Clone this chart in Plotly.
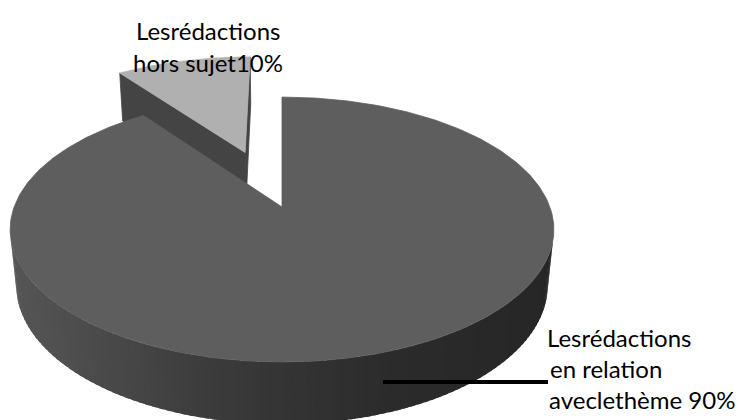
import math
import plotly.graph_objects as go

# ---- data -------------------------------------------------------------
categories = ["Lesrédactions en relation avecle thème", "Lesrédactions hors sujet"]
values = [90, 10]
label_lines = [
    ["Lesrédactions", " en relation", "aveclethème 90%"],
    ["Lesrédactions", "hors sujet10%"],
]
top_colors = ["#5e5e5e", "#b0b0b0"]
explode = [0.0, 0.48]

# ---- 3D pie geometry (pie radius = 1, screen coordinates in pixels) ---
W, H = 739, 420
CX, CY = 282, 207          # screen position of the pie centre
FOCAL = 1381.0             # projection focal length
DIST = 5.155               # camera distance
THICK = 0.24               # pie thickness
PHI = math.asin(0.48)      # camera elevation
CAM = (0.0, -DIST * math.cos(PHI), DIST * math.sin(PHI))


def project(u, v, z):
    depth = DIST + v * math.cos(PHI) - z * math.sin(PHI)
    x = CX + FOCAL * u / depth
    y = CY - FOCAL * (v * math.sin(PHI) + z * math.cos(PHI)) / depth
    return x, y


def depth_of(u, v, z):
    return DIST + v * math.cos(PHI) - z * math.sin(PHI)


def faces_camera(normal, point):
    d = [CAM[i] - point[i] for i in range(3)]
    return sum(normal[i] * d[i] for i in range(3)) > 0


def shade(hex_color, k):
    r, g, b = (int(hex_color[i:i + 2], 16) for i in (1, 3, 5))
    return "#%02x%02x%02x" % (int(r * k), int(g * k), int(b * k))


# wall brightness varies from left (lit) to right (shadow)
WALL_SHADE = [(12, 0.92), (100, 0.80), (200, 0.66), (300, 0.545), (400, 0.46), (557, 0.41)]


def wall_factor(x):
    if x <= WALL_SHADE[0][0]:
        return WALL_SHADE[0][1]
    for (x0, f0), (x1, f1) in zip(WALL_SHADE, WALL_SHADE[1:]):
        if x <= x1:
            t = (x - x0) / (x1 - x0)
            return f0 + t * (f1 - f0)
    return WALL_SHADE[-1][1]


RADIAL_SHADE = 0.39

total = sum(values)
slices = []
start = 0.0
for name, val, col, ex in zip(categories, values, top_colors, explode):
    sweep = 2 * math.pi * val / total
    a0, a1 = start, start + sweep
    mid = (a0 + a1) / 2
    ou, ov = ex * math.sin(mid), ex * math.cos(mid)
    slices.append(dict(name=name, a0=a0, a1=a1, ou=ou, ov=ov, color=col,
                       mid=mid))
    start = a1

polys = []  # (xs, ys, color, outline)


def add_poly(pts3d, color, outline=0.8):
    xs, ys = zip(*[project(*p) for p in pts3d])
    polys.append((list(xs) + [xs[0]], list(ys) + [ys[0]], color, outline))


# farther slices first
slices.sort(key=lambda s: -depth_of(s["ou"] + 0.5 * math.sin(s["mid"]),
                                   s["ov"] + 0.5 * math.cos(s["mid"]), 0))

for s in slices:
    ou, ov, a0, a1 = s["ou"], s["ov"], s["a0"], s["a1"]
    side = []
    # radial faces
    for ang, sign in ((a0, -1), (a1, 1)):
        normal = (sign * math.cos(ang), -sign * math.sin(ang), 0)
        rim = (ou + math.sin(ang), ov + math.cos(ang))
        centre_pt = (ou + 0.5 * math.sin(ang), ov + 0.5 * math.cos(ang), -THICK / 2)
        if faces_camera(normal, centre_pt):
            pts = [(ou, ov, 0), (rim[0], rim[1], 0), (rim[0], rim[1], -THICK), (ou, ov, -THICK)]
            side.append((depth_of(*centre_pt), pts, shade(s["color"], RADIAL_SHADE), 0.8))
    # outer wall strips (each overlaps the next one to hide seams)
    n = max(8, int((a1 - a0) / (2 * math.pi) * 240))
    step = (a1 - a0) / n
    for k in range(n):
        t0 = a0 + step * k
        t1 = min(a1, t0 + step * 1.6)
        tm = t0 + step / 2
        p = (ou + math.sin(tm), ov + math.cos(tm), -THICK / 2)
        if faces_camera((math.sin(tm), math.cos(tm), 0), p):
            arc = [t0 + (t1 - t0) * j / 3 for j in range(4)]
            pts = ([(ou + math.sin(t), ov + math.cos(t), 0) for t in arc] +
                   [(ou + math.sin(t), ov + math.cos(t), -THICK) for t in reversed(arc)])
            sx = project(*p)[0]
            side.append((depth_of(*p), pts, shade(s["color"], wall_factor(sx)), 0))
    side.sort(key=lambda f: -f[0])
    for _, pts, col, ol in side:
        add_poly(pts, col, ol)
    # top face
    m = max(8, int((a1 - a0) / (2 * math.pi) * 360))
    top = [(ou, ov, 0)] + [(ou + math.sin(a0 + (a1 - a0) * k / m),
                            ov + math.cos(a0 + (a1 - a0) * k / m), 0) for k in range(m + 1)]
    add_poly(top, s["color"])

fig = go.Figure()
for xs, ys, col, ol in polys:
    fig.add_trace(go.Scatter(x=xs, y=ys, mode="lines", fill="toself",
                             fillcolor=col,
                             line=dict(color=col, width=ol),
                             hoverinfo="skip", showlegend=False))

# ---- labels -----------------------------------------------------------
FONT = dict(family="Lato, Carlito, sans-serif", size=24, color="#000000")
annotations = []
# small slice label, centred above it
for i, txt in enumerate(label_lines[1]):
    annotations.append(dict(x=207.5, y=30.5 + 31.5 * i, text=txt, showarrow=False,
                            xanchor="center", yanchor="middle", font=FONT))
# large slice label, to the right with a leader line
big_x = [545, 548, 547]
for i, txt in enumerate(label_lines[0]):
    annotations.append(dict(x=big_x[i], y=337.5 + 31 * i, text=txt.strip(), showarrow=False,
                            xanchor="left", yanchor="middle", font=FONT))

fig.add_shape(type="line", x0=383, x1=548, y0=382, y1=382,
              line=dict(color="#000000", width=4), xref="x", yref="y")

fig.update_layout(
    width=W, height=H, autosize=False,
    margin=dict(l=0, r=0, t=0, b=0),
    paper_bgcolor="#ffffff", plot_bgcolor="#ffffff",
    xaxis=dict(range=[0, W], visible=False, fixedrange=True),
    yaxis=dict(range=[H, 0], visible=False, fixedrange=True),
    annotations=annotations,
    showlegend=False,
)

fig.write_html("out.html")
